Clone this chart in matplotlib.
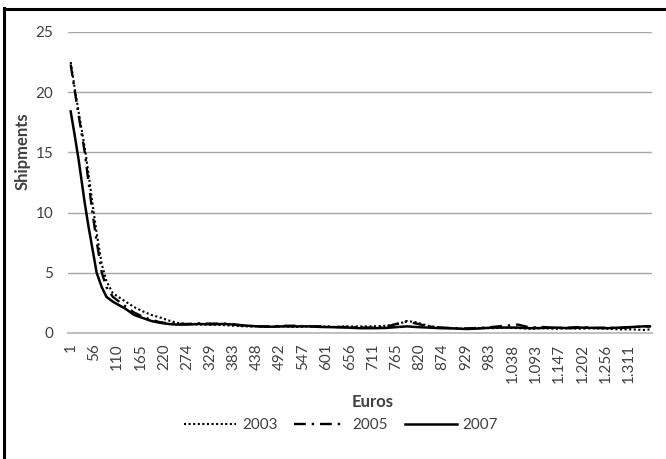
import matplotlib
matplotlib.use("Agg")
from matplotlib import pyplot as plt
from matplotlib.lines import Line2D

plt.rcParams['font.family'] = ['Lato', 'DejaVu Sans']

# euros (category values) and shipments
euros = [1, 11, 20, 34, 43, 52, 62, 74, 85, 100, 115, 130, 150, 170, 190, 210,
         230, 250, 275, 300, 330, 360, 385, 410, 440, 470, 500, 530, 560, 590,
         620, 650, 680, 710, 740, 770, 790, 810, 840, 870, 900, 930, 960, 990,
         1020, 1050, 1080, 1110, 1140, 1170, 1200, 1230, 1260, 1290, 1320, 1345, 1360]

s2003 = [22.5, 20.2, 18.3, 15.4, 13.2, 10.8, 8.3, 5.7, 4.3, 3.3, 2.95, 2.6, 2.15, 1.8,
         1.5, 1.3, 1.05, 0.85, 0.75, 0.7, 0.7, 0.65, 0.6, 0.55, 0.55, 0.5, 0.55, 0.5,
         0.55, 0.55, 0.5, 0.55, 0.55, 0.55, 0.6, 0.75, 1.0, 0.9, 0.6, 0.45, 0.4, 0.35,
         0.4, 0.4, 0.45, 0.4, 0.35, 0.4, 0.35, 0.4, 0.35, 0.4, 0.35, 0.3, 0.3, 0.25, 0.3]

s2005 = [22.3, 20.0, 18.0, 15.0, 12.5, 10.0, 7.6, 5.0, 3.8, 3.0, 2.6, 2.2, 1.7, 1.35,
         1.1, 0.9, 0.8, 0.75, 0.75, 0.8, 0.78, 0.78, 0.7, 0.6, 0.55, 0.55, 0.6, 0.6,
         0.55, 0.55, 0.5, 0.5, 0.45, 0.45, 0.5, 0.8, 0.95, 0.8, 0.55, 0.45, 0.4, 0.38,
         0.42, 0.5, 0.6, 0.7, 0.45, 0.5, 0.4, 0.45, 0.5, 0.42, 0.45, 0.4, 0.5, 0.55, 0.55]

s2007 = [18.4, 16.3, 14.3, 10.8, 8.8, 7.0, 5.0, 3.8, 3.0, 2.6, 2.3, 2.0, 1.5, 1.25,
         1.0, 0.85, 0.75, 0.7, 0.7, 0.75, 0.72, 0.75, 0.7, 0.62, 0.55, 0.52, 0.55, 0.55,
         0.55, 0.5, 0.48, 0.45, 0.4, 0.4, 0.42, 0.5, 0.55, 0.5, 0.45, 0.4, 0.38, 0.33,
         0.38, 0.45, 0.45, 0.45, 0.4, 0.42, 0.45, 0.4, 0.45, 0.42, 0.4, 0.45, 0.5, 0.55, 0.55]

tick_vals = [1, 56, 110, 165, 220, 274, 329, 383, 438, 492, 547, 601, 656, 711, 765,
             820, 874, 929, 983, 1038, 1093, 1147, 1202, 1256, 1311]
tick_labels = ['1', '56', '110', '165', '220', '274', '329', '383', '438', '492', '547',
               '601', '656', '711', '765', '820', '874', '929', '983', '1.038', '1.093',
               '1.147', '1.202', '1.256', '1.311']

txt = '#404040'
grid = '#a6a6a6'

fig = plt.figure(figsize=(6.66, 4.59), dpi=100)
ax = fig.add_axes([68/666, 1-333/459, 584/666, 301/459])

ax.plot(euros, s2003, color='black', lw=1.5, ls=(0, (1, 1.2)), label='2003')
ax.plot(euros, s2005, color='black', lw=1.7, ls=(0, (5, 2.5, 1, 2.5)), label='2005')
ax.plot(euros, s2007, color='black', lw=1.8, ls='-', label='2007')

ax.set_xlim(-5.3, 1365)
ax.set_ylim(0, 25)
ax.set_yticks([0, 5, 10, 15, 20, 25])
ax.set_xticks(tick_vals)
ax.set_xticklabels(tick_labels, rotation=90)
ax.tick_params(length=0, labelsize=11, labelcolor=txt)
ax.tick_params(axis='y', pad=10.5)
ax.tick_params(axis='x', pad=7.5)
ax.yaxis.grid(True, color=grid, lw=1)
ax.set_axisbelow(True)
for s in ['top', 'right', 'left']:
    ax.spines[s].set_visible(False)
ax.spines['bottom'].set_color('#bfbfbf')
ax.spines['bottom'].set_linewidth(1.4)

fig.text(23/666, 1-151/459, 'Shipments', rotation=90, ha='center', va='center',
         fontsize=12, fontweight='bold', color=txt)
fig.text(373/666, 1-402/459, 'Euros', ha='center', va='center',
         fontsize=12, fontweight='bold', color=txt)

fig.legend(loc='center', bbox_to_anchor=(341/666, 1-425/459), ncol=3, frameon=False,
           fontsize=11, handlelength=3.4, handletextpad=0.4, columnspacing=1.1,
           labelcolor=txt)

# outer frame (only top and left edge are inside the picture)
fig.add_artist(Line2D([3.5/666, 3.5/666], [0, 1-8/459], color='black', lw=2.2,
                      transform=fig.transFigure))
fig.add_artist(Line2D([3.5/666, 1], [1-8.5/459, 1-8.5/459], color='black', lw=2.2,
                      transform=fig.transFigure))

fig.savefig('out.png', dpi=100)
